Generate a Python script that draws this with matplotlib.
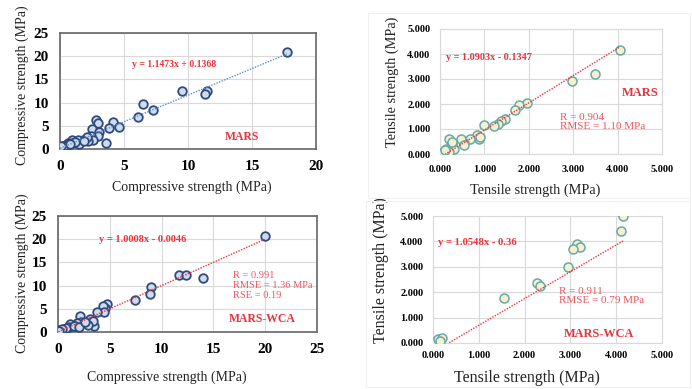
import numpy as np
import matplotlib
matplotlib.use("Agg")
from matplotlib import pyplot as plt
from matplotlib.patches import Rectangle

plt.rcParams['font.family'] = ['Liberation Serif', 'DejaVu Serif']

# top-left: compressive strength, MARS
comp_mars_x = [17.7, 9.5, 11.45, 11.3, 6.5, 7.25, 6.1, 2.8, 2.95, 4.15, 4.6, 3.85, 2.5, 3.05,
               2.95, 3.6, 2.42, 2.6, 1.8, 2.2, 2.08, 1.4, 1.45, 0.9, 0.93, 0.6, 0.5, 0.65, 0.27,
               0.2, 0.1, 0.05, 0.15, 0.3, 0.35, 0.0, 0.1, 1.9, 1.2, 0.75]
comp_mars_y = [20.8, 12.5, 12.5, 11.8, 9.7, 8.3, 7.0, 6.3, 5.7, 5.9, 4.8, 4.45, 4.3, 3.6,
               2.9, 1.4, 2.7, 2.0, 2.0, 1.7, 2.6, 1.95, 1.15, 2.0, 1.2, 1.4, 0.9, 0.9, 0.7,
               0.5, 0.4, 0.25, 0.15, 0.35, 0.6, 0.1, 0.7, 1.8, 1.5, 1.0]

# top-right: tensile strength, MARS
tens_mars_x = [4.05, 3.5, 2.98, 1.97, 1.77, 1.68, 1.47, 1.37, 1.31, 1.22, 0.98, 0.88, 0.84, 0.68,
               0.55, 0.47, 0.2, 0.27, 0.32, 0.13, 0.06, 0.2, 0.54, 0.9, 0.11, 0.26]
tens_mars_y = [4.17, 3.21, 2.93, 2.04, 1.96, 1.78, 1.42, 1.32, 1.22, 1.13, 1.15, 0.6, 0.78, 0.6,
               0.45, 0.6, 0.6, 0.43, 0.22, 0.2, 0.1, 0.08, 0.38, 0.7, 0.16, 0.5]

# bottom-left: compressive strength, MARS-WCA
comp_wca_x = [19.95, 11.65, 12.4, 14.0, 9.0, 8.85, 7.4, 4.7, 4.55, 4.35, 4.45, 3.8, 3.5, 3.1,
              3.4, 2.85, 2.1, 2.25, 1.85, 1.6, 1.15, 1.05, 0.55, 0.2, 0.05, 0.3, 0.8, 1.5,
              2.0, 2.6, 0.4, 0.1]
comp_wca_y = [20.7, 12.2, 12.3, 11.7, 9.6, 8.2, 6.9, 6.1, 5.2, 5.5, 4.3, 4.3, 1.4, 2.8,
              2.3, 1.6, 3.5, 2.2, 1.9, 1.2, 1.7, 1.1, 0.75, 0.1, 0.4, 0.3, 0.8, 1.4,
              1.1, 2.1, 0.6, 0.2]

# bottom-right: tensile strength, MARS-WCA
tens_wca_x = [4.15, 4.11, 3.15, 3.22, 3.05, 2.94, 2.26, 2.33, 1.56, 0.04, 0.11, 0.19, 0.15]
tens_wca_y = [4.99, 4.4, 3.88, 3.79, 3.69, 2.99, 2.35, 2.26, 1.78, 0.05, 0.14, 0.18, 0.09]

fits = [(1.1473, 0.1368), (1.0903, -0.1347), (1.0008, -0.0046), (1.0548, -0.36)]
eq_labels = ["y = 1.1473x + 0.1368", "y = 1.0903x - 0.1347",
             "y = 1.0008x - 0.0046", "y = 1.0548x - 0.36"]

RED = '#e8323c'
RED_LIGHT = '#f0555c'

fig = plt.figure(figsize=(6.92, 3.89), dpi=100)
W, H = 692, 389


def add_axes(l, t, r, b):
    return fig.add_axes([l / W, 1 - b / H, (r - l) / W, (b - t) / H])


# faint chart-area borders around the tensile panels
for (l, t, r, b) in [(368, 13, 690, 198), (366, 201, 690, 387)]:
    fig.patches.append(Rectangle((l / W, 1 - b / H), (r - l) / W, (b - t) / H,
                                 transform=fig.transFigure, fill=False,
                                 edgecolor='#f0f0f0', lw=0.8))

ax1 = add_axes(60, 33, 316, 149)
ax2 = add_axes(440, 29, 662, 154)
ax3 = add_axes(58, 216, 317, 332)
ax4 = add_axes(433, 216, 662, 343)


def style(ax, lim, step, fmt, frame, tsize, pad):
    ax.set_xlim(0, lim)
    ax.set_ylim(0, lim)
    ticks = np.arange(0, lim + step / 2, step)
    ax.set_xticks(ticks)
    ax.set_yticks(ticks)
    ax.set_xticklabels([fmt.format(t) for t in ticks], fontweight='bold', fontsize=tsize)
    ax.set_yticklabels([fmt.format(t) for t in ticks], fontweight='bold', fontsize=tsize)
    ax.tick_params(length=0)
    ax.tick_params(axis='x', pad=pad[0])
    ax.tick_params(axis='y', pad=pad[1])
    ax.grid(True, color='#d9d9d9', lw=0.8)
    ax.set_axisbelow(True)
    for s in ax.spines.values():
        s.set_color(frame)
        s.set_linewidth(1.2 if frame != '#d9d9d9' else 0.8)


style(ax1, 20, 5, "{:.0f}", '#666666', 11, (8, 8))
ax1.set_ylim(0, 25)
ax1.set_yticks(np.arange(0, 26, 5))
ax1.set_yticklabels([str(v) for v in range(0, 26, 5)], fontweight='bold', fontsize=11)
style(ax2, 5, 1, "{:.3f}", '#d9d9d9', 7.5, (8, 7))
style(ax3, 25, 5, "{:.0f}", '#666666', 11, (8, 8))
style(ax4, 5, 1, "{:.3f}", '#d9d9d9', 7.5, (6, 7))

comp_kw = dict(s=38, facecolors='#cfdcef', edgecolors='#2f4b7c', linewidths=1.3, zorder=3)
tens_kw = dict(s=42, facecolors='#f4f1d2', edgecolors='#6aa8a4', linewidths=1.1, zorder=3)

data = [(ax1, comp_mars_x, comp_mars_y, comp_kw, '#5b8fd0'),
        (ax2, tens_mars_x, tens_mars_y, tens_kw, RED),
        (ax3, comp_wca_x, comp_wca_y, comp_kw, RED),
        (ax4, tens_wca_x, tens_wca_y, tens_kw, RED)]

for (ax, xs, ys, kw, lc), (a, b) in zip(data, fits):
    ax.scatter(xs, ys, **kw)
    xl = np.array([min(xs), max(xs)])
    ax.plot(xl, a * xl + b, ls=(0, (1, 1)), color=lc, lw=1.0, zorder=4)

# axis labels
lab_c = "Compressive strength (MPa)"
lab_t = "Tensile strength (MPa)"
for ax, lab, fs, xc, yc in [(ax1, lab_c, 10, (0.515, -0.275), (-0.121, 0.55)),
                            (ax2, lab_t, 10.3, (0.43, -0.235), (-0.185, 0.58)),
                            (ax3, lab_c, 10, (0.42, -0.33), (-0.112, 0.51)),
                            (ax4, lab_t, 11.5, (0.41, -0.215), (-0.19, 0.575))]:
    ax.set_xlabel(lab, fontsize=fs, color='#222222')
    ax.set_ylabel(lab, fontsize=fs, color='#222222')
    ax.xaxis.set_label_coords(*xc)
    ax.yaxis.set_label_coords(*yc)

# annotations
ax1.text(0.28, 0.73, eq_labels[0], transform=ax1.transAxes, color=RED,
         fontsize=7, fontweight='bold', ha='left', va='center')
ax1.text(0.645, 0.105, "MARS", transform=ax1.transAxes, color=RED,
         fontsize=8.5, fontweight='bold', ha='left', va='center')

ax2.text(0.025, 0.77, eq_labels[1], transform=ax2.transAxes, color=RED,
         fontsize=7.3, fontweight='bold', ha='left', va='center')
ax2.text(0.82, 0.49, "MARS", transform=ax2.transAxes, color=RED,
         fontsize=9, fontweight='bold', ha='left', va='center')
ax2.text(0.54, 0.256, "R = 0.904\nRMSE = 1.10 MPa", transform=ax2.transAxes, color=RED_LIGHT,
         fontsize=8, ha='left', va='center', linespacing=1.1)

ax3.text(0.16, 0.80, eq_labels[2], transform=ax3.transAxes, color=RED,
         fontsize=7.5, fontweight='bold', ha='left', va='center')
ax3.text(0.675, 0.40, "R = 0.991\nRMSE = 1.36 MPa\nRSE = 0.19", transform=ax3.transAxes,
         color=RED_LIGHT, fontsize=7.5, ha='left', va='center', linespacing=1.1)
ax3.text(0.66, 0.11, "MARS-WCA", transform=ax3.transAxes, color=RED,
         fontsize=8.5, fontweight='bold', ha='left', va='center')

ax4.text(0.02, 0.795, eq_labels[3], transform=ax4.transAxes, color=RED,
         fontsize=7.7, fontweight='bold', ha='left', va='center')
ax4.text(0.55, 0.37, "R = 0.911\nRMSE = 0.79 MPa", transform=ax4.transAxes, color=RED_LIGHT,
         fontsize=8, ha='left', va='center', linespacing=1.1)
ax4.text(0.57, 0.07, "MARS-WCA", transform=ax4.transAxes, color=RED,
         fontsize=8.8, fontweight='bold', ha='left', va='center')

fig.savefig("out.png", dpi=100)
